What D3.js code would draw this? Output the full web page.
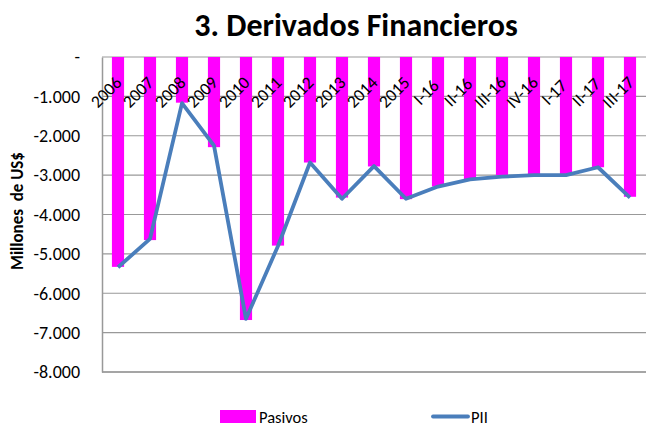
<!DOCTYPE html>
<html>
<head>
<meta charset="utf-8">
<script src="https://cdn.jsdelivr.net/npm/d3@7"></script>
<style>
body { margin: 0; background: #fff; }
text { font-family: Carlito, Calibri, "Open Sans", sans-serif; }
</style>
</head>
<body>
<svg width="648" height="426"></svg>
<script>
// categorias y series
var categories = ["2006","2007","2008","2009","2010","2011","2012","2013","2014","2015",
  "I-16","II-16","III-16","IV-16","I-17","II-17","III-17"];
var pasivos = [-5330,-4650,-1160,-2290,-6680,-4790,-2680,-3570,-2780,-3610,
  -3290,-3100,-3000,-2980,-3000,-2800,-3550];
var pii = [-5340,-4620,-1170,-2250,-6650,-4800,-2680,-3600,-2770,-3600,
  -3290,-3110,-3040,-3000,-3000,-2800,-3570];
var yTicks = [0,-1000,-2000,-3000,-4000,-5000,-6000,-7000,-8000];

var svg = d3.select("svg");
var margin = {left: 102, top: 57, right: 2, bottom: 54};
var width = +svg.attr("width") - margin.left - margin.right,
    height = +svg.attr("height") - margin.top - margin.bottom;

var g = svg.append("g").attr("transform", "translate(" + margin.left + "," + margin.top + ")");

var x = d3.scaleBand().domain(categories).range([0, width]).paddingInner(0.62).paddingOuter(0.31);
var y = d3.scaleLinear().domain([-8000, 0]).range([height, 0]);

var fmt = function(v) { return v === 0 ? "-" : d3.format(",")(v).replace(/,/g, ".").replace("−", "-"); };

// gridlines
g.append("g").selectAll("line")
  .data(yTicks)
  .enter().append("line")
  .attr("x1", 0).attr("x2", width)
  .attr("y1", function(d) { return y(d); })
  .attr("y2", function(d) { return y(d); })
  .attr("stroke", "#999").attr("stroke-width", 1.2);

// eje y
var yAxis = g.append("g")
  .call(d3.axisLeft(y).tickValues(yTicks).tickFormat(fmt).tickSize(0).tickPadding(22));
yAxis.select(".domain").attr("stroke", "#999").attr("stroke-width", 1.5);
yAxis.selectAll("text").attr("font-size", 18).attr("fill", "#000");

g.append("line")
  .attr("x1", 0).attr("x2", width).attr("y1", height).attr("y2", height)
  .attr("stroke", "#999").attr("stroke-width", 1.5);

// barras
g.append("g").selectAll("rect")
  .data(pasivos)
  .enter().append("rect")
  .attr("x", function(d, i) { return x(categories[i]); })
  .attr("y", y(0))
  .attr("width", x.bandwidth())
  .attr("height", function(d) { return y(d) - y(0); })
  .attr("fill", "#FF00FF");

// linea PII
var line = d3.line()
  .x(function(d, i) { return x(categories[i]) + x.bandwidth() / 2; })
  .y(function(d) { return y(d); });

g.append("path")
  .datum(pii)
  .attr("d", line)
  .attr("fill", "none")
  .attr("stroke", "#4A7EBB")
  .attr("stroke-width", 3.8)
  .attr("stroke-linejoin", "round");

// etiquetas de categoria
g.append("g").selectAll("text")
  .data(categories)
  .enter().append("text")
  .attr("transform", function(d) {
    return "translate(" + (x(d) + x.bandwidth() / 2 - 12) + "," + 35 + ") rotate(-45)";
  })
  .attr("text-anchor", "middle")
  .attr("dy", "0.35em")
  .attr("font-size", 17.5)
  .text(function(d) { return d; });

// titulo
svg.append("text")
  .attr("x", 356).attr("y", 36)
  .attr("text-anchor", "middle")
  .attr("font-size", 32).attr("font-weight", "bold")
  .text("3. Derivados Financieros");

svg.append("text")
  .attr("transform", "translate(23,211) rotate(-90)")
  .attr("text-anchor", "middle")
  .attr("font-size", 17).attr("font-weight", "bold")
  .attr("xml:space", "preserve")
  .text("Millones  de US$");

// leyenda
var legend = svg.append("g");
legend.append("rect").attr("x", 220).attr("y", 410).attr("width", 36).attr("height", 13).attr("fill", "#FF00FF");
legend.append("text").attr("x", 259).attr("y", 423).attr("font-size", 16.5).text("Pasivos");
legend.append("line").attr("x1", 433).attr("x2", 468).attr("y1", 416.5).attr("y2", 416.5)
  .attr("stroke", "#4A7EBB").attr("stroke-width", 3.8).attr("stroke-linecap", "round");
legend.append("text").attr("x", 471).attr("y", 423).attr("font-size", 16.5).text("PII");
</script>
</body>
</html>
